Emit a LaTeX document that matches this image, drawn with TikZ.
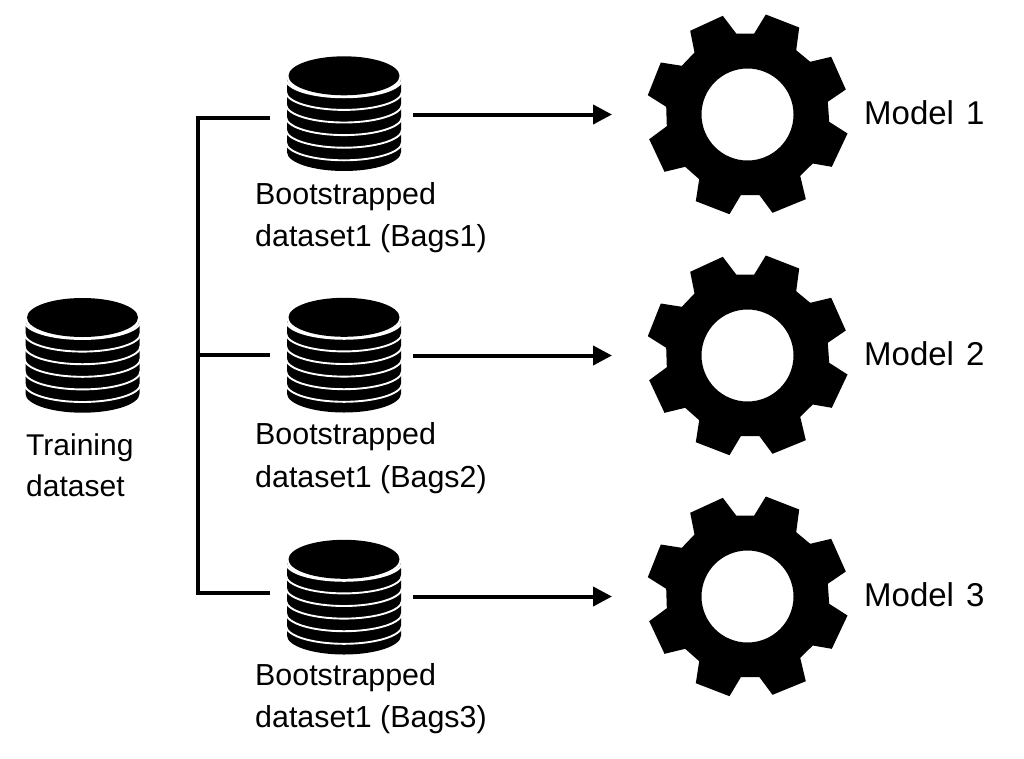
\documentclass[tikz,border=0pt]{standalone}
\usepackage{fontspec}
\setmainfont{Liberation Sans}
\usetikzlibrary{arrows.meta}
\tikzset{
  conn/.style={draw=black,line width=4pt,line join=miter},
  arrowconn/.style={conn,-{Triangle[length=19pt,width=19pt]},shorten <=11.5pt,shorten >=35.5pt},
  anchorbox/.style={inner sep=0pt,outer sep=0pt,minimum width=#1,minimum height=115pt},
  lab/.style={anchor=base west,inner sep=0pt,font=\fontsize{30}{36}\selectfont},
  blab/.style={anchor=base west,inner sep=0pt,font=\fontsize{30.4}{36}\selectfont},
  mlab/.style={anchor=base west,inner sep=0pt,font=\fontsize{33}{40}\selectfont},
  discline/.style={draw=white,line width=1.9pt}
}
\newcommand{\dbstack}[4]{%
  \begin{scope}[shift={(#1,#2)}]
    \fill (-57,4.3) arc[start angle=180,end angle=0,x radius=57,y radius=18] -- (57,77)
      arc[start angle=0,end angle=180,x radius=57,y radius=19] -- cycle;
    \fill (0,0.8) ellipse[x radius=55.5,y radius=19.5];
    \foreach \k in {0,...,5}{
      \draw[discline] (-58,{4.3+12.6*\k}) arc[start angle=180,end angle=0,x radius=58,y radius=18];
    }
  \end{scope}
  \node[anchorbox=115pt] (#3) at (#1,#4) {};
}
\newcommand{\gearshape}[3]{%
  \fill[even odd rule,shift={(#1,#2)}]
    (-24.7,-98.7)--(-11.3,-81)--(6.7,-81)--(18.3,-100)--(51.7,-87)--(48.7,-64.3)--(62.7,-52.7)--(83.7,-57.7)
    --(98.3,-25)--(80.3,-12.7)--(81.7,7.3)--(100,19)--(84.3,52.3)--(65.3,49)--(52.7,61.3)--(58.3,84.7)
    --(25,98.3)--(12,80.7)--(-6.7,80.7)--(-18,99.7)--(-51.7,86.7)--(-48.3,64.7)--(-62.3,52.3)--(-83,57.3)
    --(-98.3,24.7)--(-80.7,11.7)--(-81.3,-7.7)--(-99.7,-19.3)--(-86.7,-52)--(-65.7,-48.7)--(-53,-62)--(-57.3,-83.7)--cycle
    (0,0) circle[radius=46];
  \node[anchorbox=200pt] (#3) at (#1,#2) {};
}
\begin{document}
\begin{tikzpicture}[x=1pt,y=-1pt]
\useasboundingbox (0,0) rectangle (1024,758);
\dbstack{82.5}{316.7}{train}{355.5}
\dbstack{344}{75}{dbone}{114.5}
\dbstack{344}{316.5}{dbtwo}{355.5}
\dbstack{344}{558.5}{dbthree}{596.5}
\gearshape{747.5}{114.5}{gearone}
\gearshape{747.5}{355.5}{geartwo}
\gearshape{747.5}{596.5}{gearthree}
\coordinate (sa) at (198.3,118.3);
\coordinate (sb) at (198.3,355.3);
\coordinate (sc) at (198.3,593);
\coordinate (ba) at (270,118.3);
\coordinate (bb) at (270,355.3);
\coordinate (bc) at (270,593);
\draw[conn] (ba) -- (sa) -- (sc) -- (bc);
\draw[conn] (sb) -- (bb);
\draw[arrowconn] (dbone) -- (gearone);
\draw[arrowconn] (dbtwo) -- (geartwo);
\draw[arrowconn] (dbthree) -- (gearthree);
\node[lab] (t1) at (26,455) {Training};
\node[lab] (t2) at (26,496) {dataset};
\node[blab] (a1) at (255,204.5) {Bootstrapped};
\node[blab] (a2) at (255,246) {dataset1 (Bags1)};
\node[blab] (b1) at (255,444.5) {Bootstrapped};
\node[blab] (b2) at (255,487) {dataset1 (Bags2)};
\node[blab] (c1) at (255,685) {Bootstrapped};
\node[blab] (c2) at (255,727) {dataset1 (Bags3)};
\node[mlab] (m1) at (864,124.5) {Model\hspace{3pt} 1};
\node[mlab] (m2) at (864,365.5) {Model\hspace{3pt} 2};
\node[mlab] (m3) at (864,606) {Model\hspace{3pt} 3};
\end{tikzpicture}
\end{document}
